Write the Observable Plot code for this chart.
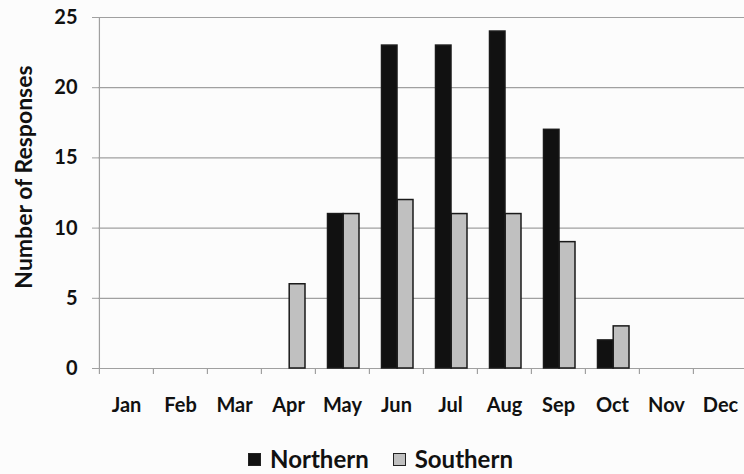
<!DOCTYPE html>
<html><head><meta charset="utf-8">
<script src="https://cdn.jsdelivr.net/npm/d3@7"></script>
<script src="https://cdn.jsdelivr.net/npm/@observablehq/plot@0.6"></script>
<style>
body{margin:0;background:#fcfcfc;font-family:Lato,sans-serif;overflow:hidden}
#legend{display:flex;justify-content:center;align-items:center;margin-top:7px;padding-left:17px;font-weight:700;font-size:24px;line-height:24px;color:#111}
.item{display:flex;align-items:center;margin:0 12px}
.sw{width:13px;height:13px;display:inline-block;margin-right:9px;box-sizing:border-box;border:1.5px solid #222}
</style></head><body><div id="chart"></div><div id="legend"></div>
<script>
const months = ["Jan","Feb","Mar","Apr","May","Jun","Jul","Aug","Sep","Oct","Nov","Dec"];
const northern = [0,0,0,0,11,23,23,24,17,2,0,0];
const southern = [0,0,0,6,11,12,11,11,9,3,0,0];
const seriesNames = ["Northern","Southern"];
const seriesColors = ["#111111","#c0c0c0"];
const yTicks = [0,5,10,15,20,25];
const yTitle = "Number of Responses";

const rowsN = months.map((m,i)=>({month:m, series:seriesNames[0], value:northern[i]})).filter(d=>d.value>0);
const rowsS = months.map((m,i)=>({month:m, series:seriesNames[1], value:southern[i]})).filter(d=>d.value>0);

const plot = Plot.plot({
  width:744, height:440, marginLeft:98, marginRight:0, marginTop:17, marginBottom:72,
  style:{background:"transparent", fontFamily:"Lato, sans-serif", color:"#111"},
  x:{domain:months, range:[98,748], padding:0},
  y:{domain:[0,25], range:[368,17]},
  marks:[
    Plot.gridY(yTicks.filter(t=>t>0), {stroke:"#a0a0a0", strokeOpacity:1, strokeWidth:1.2}),
    Plot.axisY(yTicks, {tickSize:6, tickPadding:15, fontSize:20, fontWeight:700, stroke:"#a0a0a0", fill:"#111", label:null}),
    Plot.axisX({tickSize:0, tickPadding:29, fontSize:20, fontWeight:700, fill:"#111", label:null}),
    Plot.ruleY([0], {stroke:"#a0a0a0", strokeWidth:1.2}),
    Plot.ruleX(months, {x:d=>d, dx:-27.08, y1:0, y2:0, insetBottom:-6, stroke:"#a0a0a0", strokeWidth:1.2}),
    Plot.ruleX(months.slice(0,1), {x:d=>d, dx:-27.08, y1:0, y2:25, stroke:"#a0a0a0", strokeWidth:1.2}),
    Plot.barY(rowsN, {x:"month", y:"value", fill:seriesColors[0], stroke:"#1a1a1a", strokeWidth:1.5, insetLeft:12.5, insetRight:26}),
    Plot.barY(rowsS, {x:"month", y:"value", fill:seriesColors[1], stroke:"#1a1a1a", strokeWidth:1.5, insetLeft:28.2, insetRight:10}),
    Plot.text([yTitle], {frameAnchor:"left", textAnchor:"middle", dx:-74, dy:-16, rotate:-90, fontSize:23, fontWeight:700, fill:"#111"})
  ]
});
document.getElementById("chart").appendChild(plot);

const legend = document.getElementById("legend");
seriesNames.forEach((n,i)=>{
  const it = document.createElement("span"); it.className="item";
  const sw = document.createElement("span"); sw.className="sw"; sw.style.background=seriesColors[i];
  it.appendChild(sw); it.appendChild(document.createTextNode(n));
  legend.appendChild(it);
});
</script></body></html>
